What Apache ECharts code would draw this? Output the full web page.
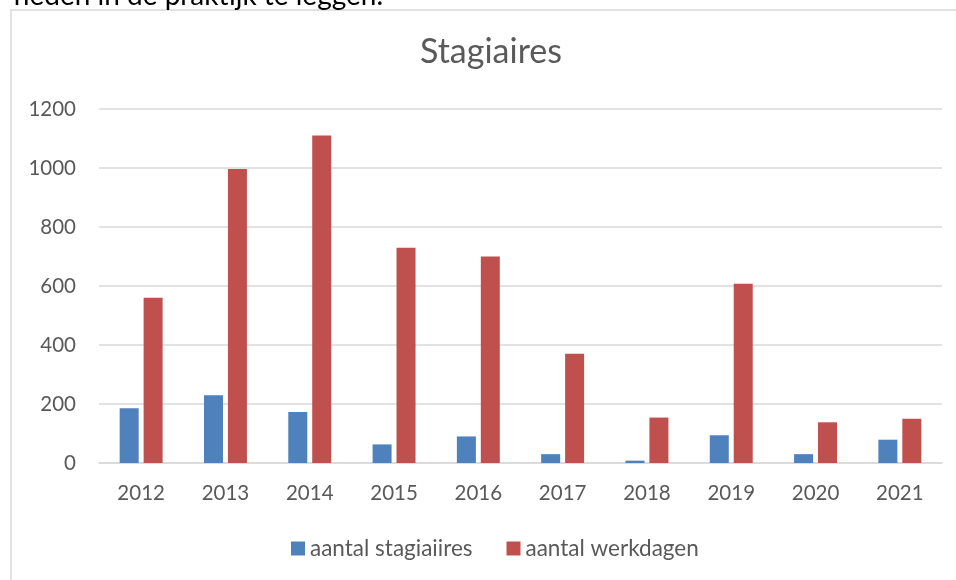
<!DOCTYPE html>
<html>
<head>
<meta charset="utf-8">
<script src="https://cdn.jsdelivr.net/npm/echarts@6/dist/echarts.min.js"></script>
<style>
html,body{margin:0;padding:0;background:#fff;}
#chart{width:956px;height:580px;}
</style>
</head>
<body>
<div id="chart"></div>
<script>
const years = ['2012','2013','2014','2015','2016','2017','2018','2019','2020','2021'];
const stagiairs = [186, 230, 173, 63, 90, 30, 8, 94, 30, 79];
const werkdagen = [560, 997, 1110, 730, 700, 370, 154, 608, 138, 150];
const seriesNames = ['aantal stagiaiires', 'aantal werkdagen'];
const yTicks = [0, 200, 400, 600, 800, 1000, 1200];

const FONT = 'Lato, "Open Sans", sans-serif';
const TXT = '#595959';

const chart = echarts.init(document.getElementById('chart'), null, {renderer: 'canvas'});
chart.setOption({
  animation: false,
  backgroundColor: '#ffffff',
  title: {
    text: 'Stagiaires',
    left: 491,
    top: 35,
    padding: 0,
    textAlign: 'center',
    textStyle: {fontFamily: FONT, fontSize: 34, fontWeight: 'normal', color: TXT}
  },
  graphic: [
    {
      type: 'rect', silent: true, z: -1,
      shape: {x: 11, y: 10, width: 980, height: 620},
      style: {fill: null, stroke: '#d9d9d9', lineWidth: 1.5}
    },
    {
      type: 'text', silent: true, x: 383, y: 9,
      style: {text: 'heden in de praktijk te leggen.', fontFamily: FONT, fontSize: 28,
              lineHeight: 26, fill: '#000', align: 'right', verticalAlign: 'bottom'}
    }
  ],
  legend: {
    data: seriesNames,
    left: 291,
    top: 537,
    padding: 0,
    itemWidth: 14,
    itemHeight: 14,
    itemGap: 34,
    icon: 'rect',
    textStyle: {fontFamily: FONT, fontSize: 22.5, color: TXT}
  },
  grid: {left: 99, right: 14, top: 109, bottom: 117, containLabel: false},
  xAxis: {
    type: 'category',
    data: years,
    axisLine: {show: true, lineStyle: {color: '#d9d9d9', width: 1.5}},
    axisTick: {show: false},
    axisLabel: {fontFamily: FONT, fontSize: 20.5, color: TXT, margin: 20}
  },
  yAxis: {
    type: 'value',
    min: yTicks[0],
    max: yTicks[yTicks.length - 1],
    interval: 200,
    axisLine: {show: false},
    axisTick: {show: false},
    splitLine: {lineStyle: {color: '#d9d9d9', width: 1.5}},
    axisLabel: {fontFamily: FONT, fontSize: 20.5, color: TXT, margin: 23,
                formatter: function (v) { return String(v); }}
  },
  series: [
    {
      name: seriesNames[0], type: 'bar', data: stagiairs,
      barWidth: 19, barGap: '26%',
      itemStyle: {color: '#4f81bd'}
    },
    {
      name: seriesNames[1], type: 'bar', data: werkdagen,
      barWidth: 19, barGap: '26%',
      itemStyle: {color: '#c0504d'}
    }
  ]
});
</script>
</body>
</html>
